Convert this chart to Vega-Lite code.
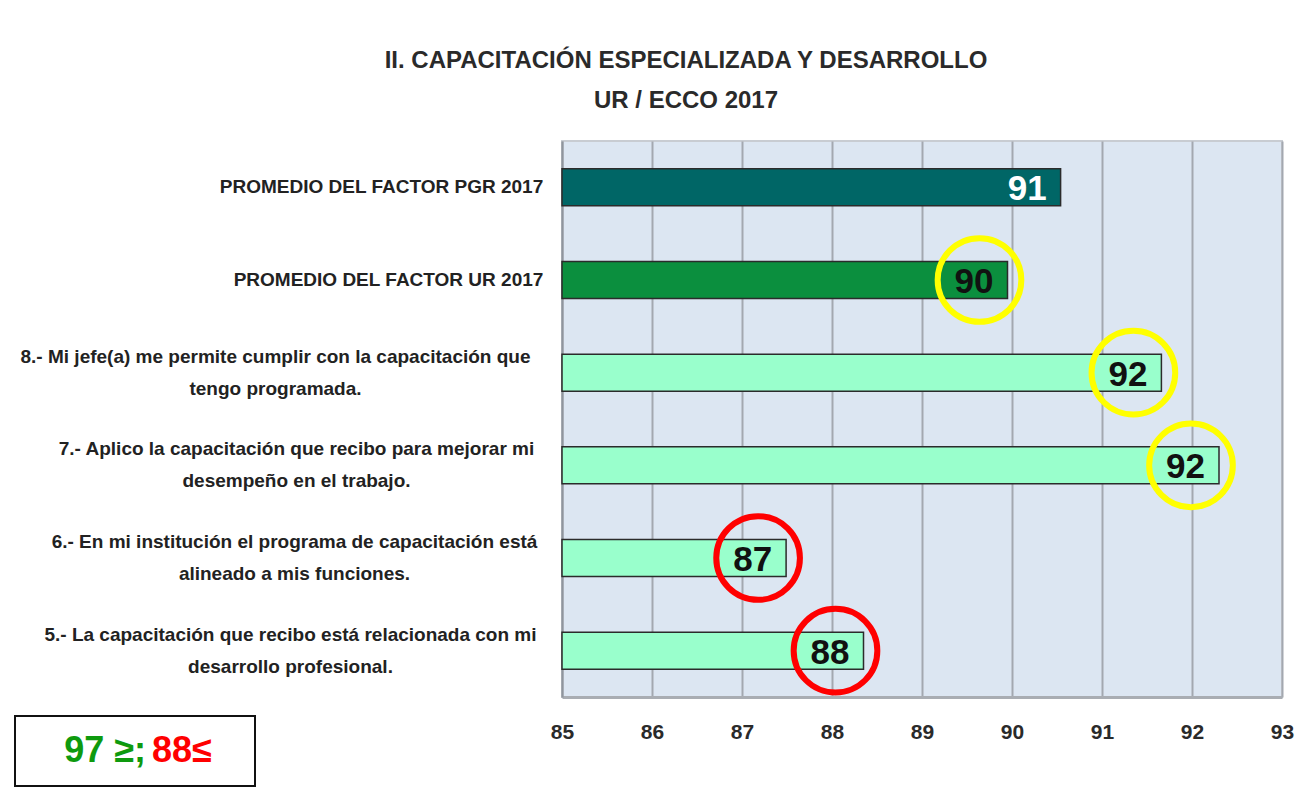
{
  "$schema": "https://vega.github.io/schema/vega-lite/v6.json",
  "width": 720,
  "height": 556,
  "autosize": {"type": "none"},
  "padding": {"left": 562, "top": 141, "right": 21, "bottom": 102},
  "background": "white",
  "config": {
    "font": "Liberation Sans, Arial, sans-serif",
    "view": {"fill": "#DCE6F2", "stroke": "#c8ccd2", "strokeWidth": 2}
  },
  "title": {
    "text": ["II. CAPACITACIÓN ESPECIALIZADA Y DESARROLLO", "UR / ECCO 2017"],
    "fontSize": 24,
    "fontWeight": "bold",
    "color": "#2a2a2a",
    "anchor": "middle",
    "frame": "group",
    "dx": -236,
    "lineHeight": 40,
    "offset": 28
  },
  "data": {
    "values": [
      {"pregunta": "PROMEDIO DEL FACTOR PGR 2017", "tipo": "PGR", "valor": 90.54, "nivel": ""},
      {"pregunta": "PROMEDIO DEL FACTOR UR 2017", "tipo": "UR", "valor": 89.95, "nivel": "medio"},
      {"pregunta": "8.- Mi jefe(a) me permite cumplir con la capacitación que|tengo programada.", "tipo": "Pregunta", "valor": 91.66, "nivel": "medio"},
      {"pregunta": "7.- Aplico la capacitación que recibo para mejorar mi|desempeño en el trabajo.", "tipo": "Pregunta", "valor": 92.30, "nivel": "medio"},
      {"pregunta": "6.- En mi institución el programa de capacitación está|alineado a mis funciones.", "tipo": "Pregunta", "valor": 87.49, "nivel": "bajo"},
      {"pregunta": "5.- La capacitación que recibo está relacionada con mi|desarrollo profesional.", "tipo": "Pregunta", "valor": 88.35, "nivel": "bajo"}
    ]
  },
  "encoding": {
    "y": {
      "field": "pregunta",
      "type": "nominal",
      "sort": null,
      "scale": {"paddingInner": 0.6, "paddingOuter": 0.3},
      "axis": {
        "title": null,
        "labelExpr": "split(datum.value, '|')",
        "labelFontSize": 19,
        "labelFontWeight": "bold",
        "labelColor": "#222222",
        "labelLineHeight": 32,
        "labelAlign": "center",
        "labelBaseline": "middle",
        "labelLimit": 700,
        "ticks": false,
        "tickSize": 0,
        "labelOffset": {
          "condition": {"test": "slice(datum.value, 0, 8) == 'PROMEDIO'", "value": 0},
          "value": -16
        },
        "labelPadding": {
          "condition": [
            {"test": "datum.value == 'PROMEDIO DEL FACTOR PGR 2017'", "value": 181},
            {"test": "datum.value == 'PROMEDIO DEL FACTOR UR 2017'", "value": 174},
            {"test": "slice(datum.value, 0, 3) == '8.-'", "value": 287},
            {"test": "slice(datum.value, 0, 3) == '7.-'", "value": 266},
            {"test": "slice(datum.value, 0, 3) == '6.-'", "value": 268}
          ],
          "value": 272
        },
        "domainColor": "#8f959d",
        "domainWidth": 2,
        "grid": false
      }
    }
  },
  "layer": [
    {
      "mark": {"type": "bar", "stroke": "#2b2b2b", "strokeWidth": 1.5},
      "encoding": {
        "x": {
          "field": "valor",
          "type": "quantitative",
          "scale": {"domain": [85, 93], "zero": false, "nice": false},
          "axis": {
            "title": null,
            "values": [85, 86, 87, 88, 89, 90, 91, 92, 93],
            "format": "d",
            "grid": true,
            "gridColor": "#a3a8b0",
            "gridWidth": 2,
            "ticks": false,
            "labelFlush": false,
            "labelFontSize": 21,
            "labelFontWeight": "bold",
            "labelColor": "#2a2a2a",
            "labelPadding": 24,
            "domainColor": "#a9adb3",
            "domainWidth": 3
          }
        },
        "x2": {"datum": 85},
        "fill": {
          "field": "tipo",
          "type": "nominal",
          "scale": {"domain": ["PGR", "UR", "Pregunta"], "range": ["#006666", "#0B8F3E", "#99FFCC"]},
          "legend": null
        }
      }
    },
    {
      "mark": {"type": "text", "align": "right", "baseline": "middle", "dx": -14, "dy": 2, "fontSize": 35, "fontWeight": 600},
      "encoding": {
        "x": {"field": "valor", "type": "quantitative"},
        "text": {"field": "valor", "type": "quantitative", "format": ".0f"},
        "color": {
          "condition": {"test": "datum.tipo == 'PGR'", "value": "#ffffff"},
          "value": "#111111"
        }
      }
    },
    {
      "transform": [{"filter": "datum.nivel != ''"}],
      "mark": {"type": "point", "shape": "circle", "filled": false, "strokeWidth": 6, "size": 7000, "xOffset": -28, "opacity": 1},
      "encoding": {
        "x": {"field": "valor", "type": "quantitative"},
        "stroke": {
          "field": "nivel",
          "type": "nominal",
          "scale": {"domain": ["medio", "bajo"], "range": ["#FFFF00", "#FF0000"]},
          "legend": null
        }
      }
    },
    {
      "data": {"values": [{"alto": "97 ≥;", "bajo": "88≤"}]},
      "layer": [
        {
          "mark": {"type": "point", "shape": "M-1,-0.2917L1,-0.2917L1,0.2917L-1,0.2917Z", "size": 57600, "filled": false, "stroke": "#111111", "strokeWidth": 2, "opacity": 1, "y": "height", "yOffset": 54, "xOffset": -427},
          "encoding": {"x": {"datum": 85, "type": "quantitative"}, "y": null}
        },
        {
          "mark": {"type": "text", "align": "right", "baseline": "middle", "fontSize": 36, "fontWeight": "bold", "color": "#0E9A0E", "y": "height", "yOffset": 54, "xOffset": -416},
          "encoding": {"x": {"datum": 85, "type": "quantitative"}, "y": null, "text": {"field": "alto"}}
        },
        {
          "mark": {"type": "text", "align": "left", "baseline": "middle", "fontSize": 36, "fontWeight": "bold", "color": "#FF0000", "y": "height", "yOffset": 54, "xOffset": -410},
          "encoding": {"x": {"datum": 85, "type": "quantitative"}, "y": null, "text": {"field": "bajo"}}
        }
      ]
    }
  ]
}
